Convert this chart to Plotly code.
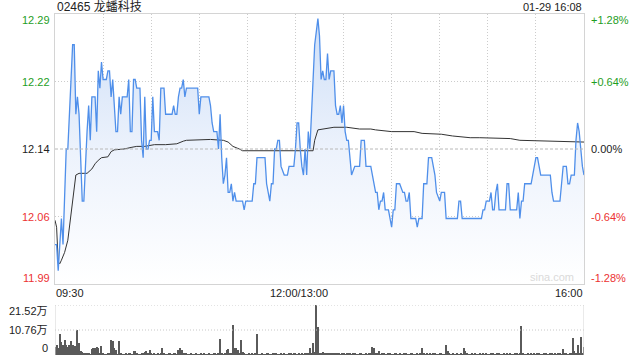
import plotly.graph_objects as go

# ---------------- data ----------------
title_text = "02465 龙蟠科技"
stamp_text = "01-29 16:08"
prev_close = 12.14
price_ticks = ["12.29", "12.22", "12.14", "12.06", "11.99"]
pct_ticks = ["+1.28%", "+0.64%", "0.00%", "-0.64%", "-1.28%"]
time_labels = ["09:30", "12:00/13:00", "16:00"]
vol_ticks = ["21.52万", "10.76万", "0"]
vol_max = 21.52
watermark = "sina.com"

# minutes after 09:30 (trading minutes, lunch removed) and price
price_min = [0, 1, 2, 4, 5, 7, 8, 11, 12, 13, 14, 15, 17, 18, 20, 21, 22, 23, 25, 26,
             27, 28, 29, 30, 32, 33, 34, 35, 36, 38, 39, 40, 41, 42, 45, 46, 47, 48, 49, 50,
             51, 53, 54, 55, 56, 57, 58, 59, 60, 61, 62, 64, 65, 66, 68, 69, 73, 74, 75, 76,
             77, 78, 79, 80, 81, 82, 89, 90, 91, 96, 97, 98, 99, 101, 102, 103, 104, 105, 106, 107,
             108, 109, 110, 111, 112, 113, 117, 118, 119, 123, 124, 125, 126, 131, 132, 134, 135, 136, 137, 138,
             139, 140, 141, 143, 145, 146, 149, 150, 151, 152, 153, 154, 155, 156, 157, 158, 159, 160, 162, 164,
             165, 166, 167, 168, 169, 170, 171, 172, 174, 175, 176, 177, 178, 179, 180, 181, 182, 183, 184, 185,
             187, 190, 191, 193, 194, 197, 198, 200, 201, 202, 203, 204, 205, 206, 208, 209, 210, 211, 212, 213,
             215, 217, 218, 219, 220, 221, 222, 225, 226, 227, 229, 230, 232, 233, 235, 237, 238, 240, 241, 243,
             244, 251, 252, 253, 254, 266, 267, 268, 269, 271, 272, 273, 274, 275, 276, 277, 281, 282, 283, 284,
             288, 289, 290, 291, 292, 293, 297, 298, 300, 301, 303, 309, 310, 311, 315, 316, 317, 319, 320, 321,
             322, 324, 325, 326, 327, 328, 329, 330]
price_val = [12.03, 12.03, 12.00, 12.06, 12.03, 12.14, 12.14, 12.26, 12.26, 12.18, 12.20, 12.18, 12.08, 12.08, 12.16, 12.19, 12.15, 12.20, 12.20, 12.16,
             12.23, 12.21, 12.24, 12.22, 12.22, 12.23, 12.23, 12.20, 12.22, 12.16, 12.16, 12.20, 12.18, 12.20, 12.20, 12.22, 12.16, 12.16, 12.22, 12.22,
             12.21, 12.21, 12.15, 12.13, 12.20, 12.14, 12.14, 12.15, 12.15, 12.20, 12.16, 12.16, 12.15, 12.21, 12.21, 12.18, 12.18, 12.19, 12.18, 12.18,
             12.20, 12.21, 12.21, 12.22, 12.20, 12.21, 12.21, 12.18, 12.20, 12.20, 12.19, 12.17, 12.16, 12.16, 12.14, 12.18, 12.13, 12.10, 12.11, 12.13,
             12.09, 12.09, 12.10, 12.08, 12.09, 12.08, 12.08, 12.07, 12.08, 12.08, 12.10, 12.10, 12.13, 12.13, 12.10, 12.08, 12.10, 12.10, 12.14, 12.14,
             12.15, 12.15, 12.12, 12.11, 12.11, 12.12, 12.12, 12.14, 12.17, 12.17, 12.14, 12.12, 12.11, 12.14, 12.11, 12.16, 12.14, 12.18, 12.26, 12.29,
             12.27, 12.22, 12.23, 12.22, 12.22, 12.25, 12.22, 12.23, 12.23, 12.19, 12.18, 12.18, 12.19, 12.17, 12.19, 12.16, 12.15, 12.15, 12.13, 12.11,
             12.12, 12.12, 12.15, 12.15, 12.12, 12.12, 12.11, 12.09, 12.09, 12.07, 12.08, 12.08, 12.09, 12.07, 12.07, 12.06, 12.05, 12.07, 12.07, 12.10,
             12.10, 12.09, 12.09, 12.08, 12.08, 12.09, 12.06, 12.06, 12.05, 12.06, 12.06, 12.10, 12.10, 12.13, 12.13, 12.11, 12.09, 12.08, 12.09, 12.09,
             12.06, 12.06, 12.08, 12.08, 12.06, 12.06, 12.07, 12.07, 12.08, 12.08, 12.09, 12.07, 12.07, 12.09, 12.10, 12.07, 12.07, 12.10, 12.10, 12.07,
             12.07, 12.09, 12.06, 12.08, 12.08, 12.10, 12.10, 12.11, 12.13, 12.13, 12.11, 12.11, 12.09, 12.08, 12.08, 12.10, 12.12, 12.12, 12.10, 12.10,
             12.11, 12.11, 12.15, 12.17, 12.16, 12.14, 12.12, 12.11]

avg_min = [0, 1, 2, 3, 4, 6, 8, 10, 12, 13, 15, 20, 23, 25, 27, 29, 33, 35, 37, 43,
           48, 51, 56, 62, 69, 76, 80, 82, 97, 105, 108, 111, 115, 117, 161, 162, 164, 168, 174, 182,
           190, 197, 200, 210, 224, 229, 241, 248, 259, 265, 284, 290, 310, 322, 330]
avg_val = [12.058, 12.050, 12.010, 12.008, 12.012, 12.021, 12.035, 12.065, 12.100, 12.110, 12.112, 12.112, 12.117, 12.123, 12.127, 12.130, 12.131, 12.137, 12.139, 12.140,
           12.142, 12.143, 12.143, 12.145, 12.145, 12.146, 12.149, 12.150, 12.151, 12.150, 12.148, 12.143, 12.140, 12.138, 12.138, 12.150, 12.162, 12.163, 12.165, 12.165,
           12.163, 12.163, 12.162, 12.160, 12.160, 12.158, 12.157, 12.155, 12.153, 12.153, 12.152, 12.150, 12.149, 12.148, 12.148]

# volume per minute, in 万 shares
volume = [3.6, 4.3, 3.0, 9.0, 5.7, 4.3, 6.5, 4.3, 3.6, 4.3,
          6.0, 4.3, 4.0, 3.8, 10.8, 5.0, 1.9, 1.4, 0.7, 0.9,
          0.6, 0.5, 0.4, 2.6, 2.9, 2.9, 3.6, 2.9, 0.5, 3.8,
          0.6, 0.4, 0.3, 0.5, 0.7, 6.5, 6.2, 2.9, 2.2, 0.4,
          6.0, 0.5, 0.3, 0.4, 0.6, 0.3, 0.5, 0.8, 0.4, 1.9,
          1.9, 0.5, 0.3, 0.4, 0.6, 0.5, 1.4, 1.9, 0.7, 2.2,
          0.5, 0.4, 0.6, 0.3, 0.5, 0.4, 0.6, 3.2, 0.5, 0.4,
          0.3, 0.6, 0.5, 0.4, 0.7, 0.5, 0.3, 2.2, 2.9, 2.2,
          0.9, 0.6, 0.5, 0.4, 0.3, 0.5, 0.4, 0.3, 0.5, 0.4,
          0.3, 0.5, 0.4, 0.6, 0.3, 0.4, 0.5, 0.3, 0.4, 0.6,
          0.5, 0.4, 0.9, 6.7, 0.5, 0.4, 0.8, 2.2, 2.6, 0.5,
          0.9, 12.9, 2.9, 3.2, 2.2, 0.6, 6.5, 1.4, 0.5, 0.4,
          0.3, 0.5, 0.4, 0.6, 0.3, 0.5, 9.0, 0.4, 0.3, 0.5,
          0.4, 0.3, 0.5, 0.6, 0.4, 0.3, 1.0, 1.0, 0.5, 0.4,
          0.3, 0.5, 0.4, 0.6, 0.4, 0.3, 0.5, 0.6, 0.4, 0.5,
          0.6, 0.4, 0.5, 0.3, 0.6, 0.4, 0.5, 0.7, 0.9, 3.2,
          0.8, 5.3, 1.2, 21.52, 12.0, 1.0, 0.8, 1.4, 0.6, 0.9,
          0.7, 1.0, 0.6, 0.5, 0.8, 0.6, 0.5, 0.7, 0.4, 0.5,
          0.6, 0.4, 0.5, 0.7, 0.5, 0.4, 0.6, 0.5, 0.3, 0.4,
          0.5, 0.6, 0.4, 0.3, 0.5, 0.4, 0.6, 0.5, 3.6, 2.9,
          0.6, 0.5, 1.7, 0.4, 0.6, 0.5, 0.3, 0.4, 0.6, 0.5,
          0.4, 0.3, 0.5, 0.6, 0.4, 0.5, 0.3, 0.4, 0.6, 0.5,
          0.3, 0.4, 0.5, 0.6, 0.4, 0.3, 0.5, 0.4, 0.6, 2.9,
          0.5, 0.4, 0.6, 0.3, 0.5, 0.4, 0.6, 0.5, 0.3, 0.4,
          0.5, 0.6, 0.4, 0.3, 4.3, 1.7, 0.5, 0.4, 0.6, 0.3,
          0.4, 0.5, 0.3, 0.6, 0.4, 2.9, 1.7, 0.5, 0.4, 0.3,
          0.5, 0.4, 0.6, 0.3, 0.4, 0.5, 0.3, 0.6, 0.4, 0.5,
          0.3, 0.4, 0.6, 0.5, 0.3, 0.4, 0.5, 0.6, 0.4, 0.3,
          0.5, 0.4, 0.6, 0.3, 0.5, 0.4, 0.3, 0.6, 0.5, 0.4,
          0.6, 12.6, 0.5, 0.4, 0.3, 0.5, 0.4, 0.6, 0.3, 0.5,
          0.4, 0.6, 0.5, 0.3, 0.4, 0.5, 0.6, 0.4, 0.3, 0.5,
          0.6, 0.4, 0.5, 0.3, 0.7, 0.5, 0.4, 2.6, 0.5, 0.6,
          0.4, 0.8, 0.5, 7.2, 1.7, 0.6, 4.3, 0.8, 7.6, 1.0,
          3.6]
vol_min = list(range(len(volume)))

# ---------------- figure ----------------
FONT = "Liberation Sans, Arial, Noto Sans CJK SC, sans-serif"
GREEN = "#1f9e1f"
RED = "#ec3232"
BLACK = "#222222"
W, H = 640, 360
ML, MR, MT, MB = 55, 56, 14, 5
PW = W - ML - MR
PH = H - MT - MB

def px(X):
    return (X - ML) / PW

def py(Y):
    return (H - MB - Y) / PH

span = prev_close * 0.0128
ymin, ymax = prev_close - span, prev_close + span
grid_vals = [prev_close - span / 2, prev_close + span / 2]

fig = go.Figure()

fig.add_trace(go.Scatter(
    x=price_min, y=price_val, mode="lines", line=dict(width=0, color="rgba(0,0,0,0)"),
    fill="tozeroy",
    fillgradient=dict(type="vertical", start=ymin, stop=ymax,
                      colorscale=[[0, "rgba(255,255,255,1)"], [0.5, "rgb(236,242,252)"],
                                  [1, "rgb(205,222,247)"]]),
    hoverinfo="skip", showlegend=False, xaxis="x", yaxis="y"))

fig.add_trace(go.Scatter(
    x=avg_min, y=avg_val, mode="lines", line=dict(width=1, color="#333333"),
    hoverinfo="skip", showlegend=False, xaxis="x", yaxis="y"))

fig.add_trace(go.Scatter(
    x=price_min, y=price_val, mode="lines", line=dict(width=1.3, color="#4f8fea"),
    hoverinfo="skip", showlegend=False, xaxis="x", yaxis="y"))

fig.add_trace(go.Bar(
    x=vol_min, y=volume, width=0.65, marker=dict(color="#5a5a5a", line=dict(width=0)),
    hoverinfo="skip", showlegend=False, xaxis="x2", yaxis="y2"))

main_bottom = py(284)
vol_top = py(305)

fig.update_layout(
    width=W, height=H, margin=dict(l=ML, r=MR, t=MT, b=MB),
    paper_bgcolor="white", plot_bgcolor="white",
    font=dict(family=FONT, size=11, color=BLACK),
    bargap=0,
    xaxis=dict(domain=[0, 1], range=[0, 330], anchor="y",
               tickvals=list(range(30, 330, 30)), showticklabels=False, ticks="",
               showgrid=True, gridcolor="#cccccc", griddash="1px,2px", gridwidth=1,
               showline=True, mirror=True, linecolor="#d4d4d4", linewidth=1, zeroline=False),
    yaxis=dict(domain=[main_bottom, 1], range=[ymin, ymax], anchor="x",
               tickvals=grid_vals, showticklabels=False, ticks="",
               showgrid=True, gridcolor="#cccccc", griddash="1px,2px", gridwidth=1,
               showline=True, mirror=True, linecolor="#d4d4d4", linewidth=1, zeroline=False),
    xaxis2=dict(domain=[0, 1], range=[0, 330], anchor="y2", matches="x",
                showticklabels=False, ticks="", showgrid=False, showline=False, zeroline=False),
    yaxis2=dict(domain=[0, vol_top], range=[0, vol_max], anchor="x2",
                showticklabels=False, ticks="", showgrid=False, showline=False, zeroline=False),
)

shapes = [
    dict(type="line", xref="x", yref="y", x0=0, x1=330, y0=prev_close, y1=prev_close,
         line=dict(color="#b8b8b8", width=1, dash="3px,2px")),
    dict(type="line", xref="x2", yref="y2", x0=0, x1=330, y0=vol_max, y1=vol_max,
         line=dict(color="#c8c8c8", width=1, dash="1px,2px")),
    dict(type="line", xref="x2", yref="y2", x0=0, x1=330, y0=vol_max / 2, y1=vol_max / 2,
         line=dict(color="#c8c8c8", width=1, dash="1px,2px")),
    dict(type="line", xref="x2", yref="y2", x0=0, x1=0, y0=0, y1=vol_max,
         line=dict(color="#d4d4d4", width=1)),
    dict(type="line", xref="x2", yref="y2", x0=330, x1=330, y0=0, y1=vol_max,
         line=dict(color="#d4d4d4", width=1)),
]
fig.update_layout(shapes=shapes)

ann = []
def add(text, X, Y, xa, color=BLACK, size=11):
    ann.append(dict(text=text, x=px(X), y=py(Y), xref="paper", yref="paper",
                    xanchor=xa, yanchor="middle", showarrow=False,
                    font=dict(family=FONT, size=size, color=color)))

add(title_text, 55, 7, "left", "#222222", 12)
add(stamp_text, 584, 7, "right", "#222222", 11)

label_y = [20, 82, 149, 217, 278]
label_c = [GREEN, GREEN, BLACK, RED, RED]
for t, yy, c in zip(price_ticks, label_y, label_c):
    add(t, 52, yy, "right", c)
for t, yy, c in zip(pct_ticks, label_y, label_c):
    add(t, 589, yy, "left", c)

add(time_labels[0], 54, 293, "left")
add(time_labels[1], 268, 293, "left")
add(time_labels[2], 585, 293, "right")

for t, yy in zip(vol_ticks, [311, 330, 348]):
    add(t, 50, yy, "right")

add(watermark, 552, 277, "center", "#dadada", 11)

fig.update_layout(annotations=ann)

fig.write_html("out.html")
